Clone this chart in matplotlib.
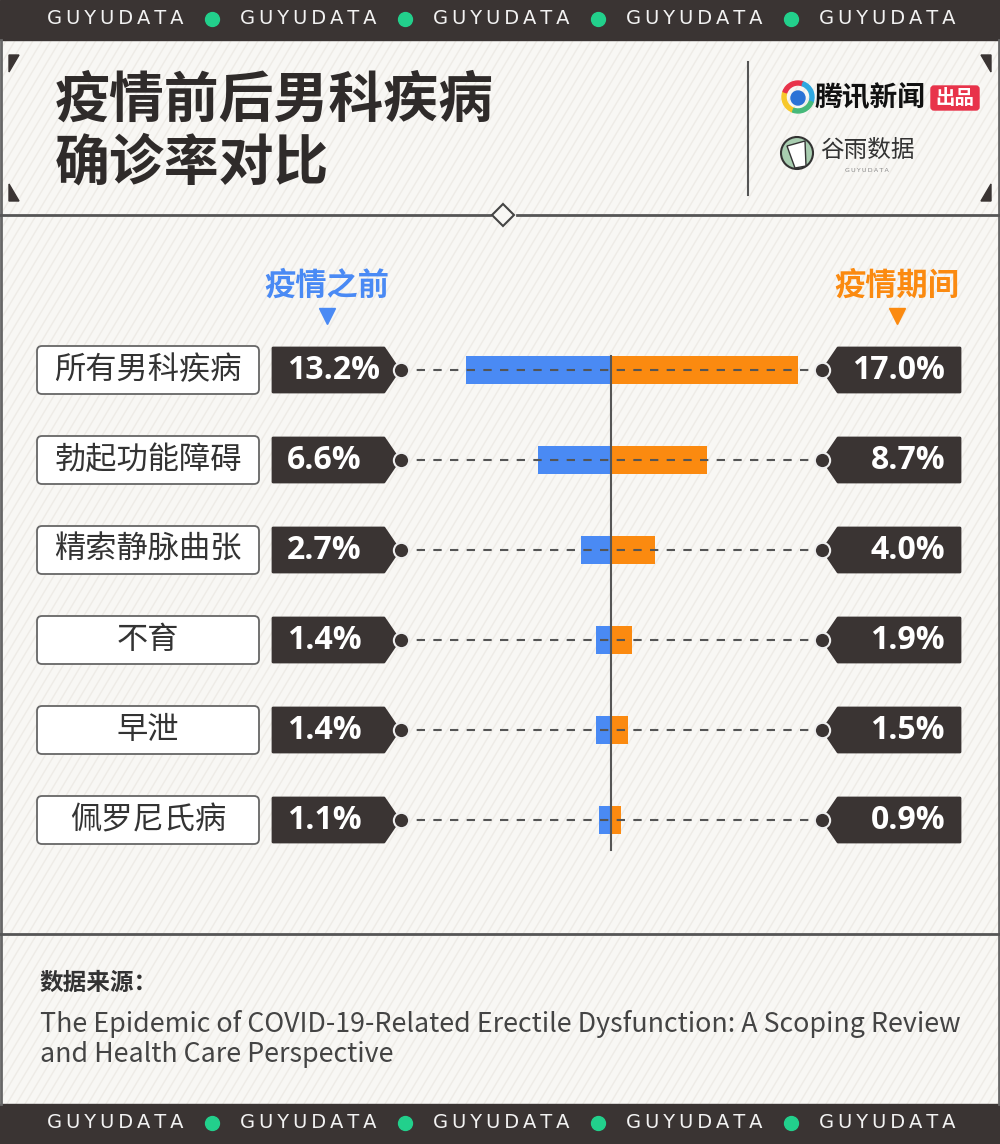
import matplotlib.pyplot as plt
from matplotlib.patches import Rectangle, FancyBboxPatch, Polygon, Circle, Wedge
from matplotlib.transforms import blended_transform_factory
import numpy as np

plt.rcParams['font.family'] = ['Noto Sans CJK SC', 'DejaVu Sans']

# data
categories = ['所有男科疾病', '勃起功能障碍', '精索静脉曲张', '不育', '早泄', '佩罗尼氏病']
before = [13.2, 6.6, 2.7, 1.4, 1.4, 1.1]
during = [17.0, 8.7, 4.0, 1.9, 1.5, 0.9]
series_names = ['疫情之前', '疫情期间']
title_lines = ['疫情前后男科疾病', '确诊率对比']
source_head = '数据来源：'
source_text = ['The Epidemic of COVID-19-Related Erectile Dysfunction: A Scoping Review',
               'and Health Care Perspective']

BLUE = '#4a8af4'
ORANGE = '#fb8a10'
DARK = '#3a3433'
BG = '#f8f7f4'

W, H = 1000, 1144
fig = plt.figure(figsize=(W / 100, H / 100), dpi=100)
fig.patch.set_facecolor(BG)

# background axes in pixel coords
bg = fig.add_axes([0, 0, 1, 1])
bg.set_xlim(0, W)
bg.set_ylim(H, 0)
bg.axis('off')

# diagonal stripes
for x0 in np.arange(-800, W + 10, 9):
    bg.plot([x0, x0 + 0.6 * H], [H, 0], color='#eeebe6', lw=1.0, zorder=0)

# top / bottom bands
for y0 in (0, 1104):
    bg.add_patch(Rectangle((0, y0), W, 40, color=DARK, zorder=2))
    yc = y0 + 19
    for k in range(5):
        bg.text(115 + 193 * k, yc, '\u2009'.join('GUYUDATA'), color='#f2f2f2', fontsize=14,
                family='DejaVu Sans', ha='center', va='center', zorder=3)
        if k < 4:
            bg.plot(212 + 193 * k, yc, 'o', ms=10, color='#22d08c', zorder=3)

# side borders
bg.plot([1, 1], [40, 1104], color='#666', lw=2)
bg.plot([999, 999], [40, 1104], color='#666', lw=2)

# corner wedges
for (x, y, dx, dy) in [(9, 55, 1, 1), (991, 55, -1, 1), (9, 201, 1, -1), (991, 201, -1, -1)]:
    bg.add_patch(Polygon([(x, y), (x + 10 * dx, y), (x, y + 17 * dy)], closed=True, color=DARK, zorder=3))

# title
for i, line in enumerate(title_lines):
    bg.text(55, 100 + 63 * i, line, fontsize=39.5, fontweight='bold', color='#2f2b2a',
            ha='left', va='center')

# separators
bg.plot([748, 748], [62, 195], color='#555', lw=1.5)
bg.plot([0, 490], [215, 215], color='#555', lw=2)
bg.plot([517, W], [215, 215], color='#555', lw=2)
bg.plot(503, 215, marker='D', ms=11, mfc=BG, mec='#444', mew=1.5, zorder=4)
bg.plot([0, W], [934, 934], color='#555', lw=2)

# Tencent logo
cx, cy = 798, 97
for th1, th2, c in [(110, 200, '#f7c82b'), (200, 290, '#e8334a'), (290, 20, '#2fa8e0'), (20, 110, '#46b97a')]:
    bg.add_patch(Wedge((cx, cy), 16, th1, th2, width=4, color=c, zorder=3))
bg.add_patch(Circle((cx, cy + 1), 7, color='#2b72d6', zorder=3))
bg.text(814, 98, '腾讯新闻', fontsize=20, fontweight='bold', color='#111', ha='left', va='center')
bg.add_patch(FancyBboxPatch((931, 86), 48, 24, boxstyle='round,pad=0,rounding_size=3',
                            color='#e8334a', zorder=3))
bg.text(955, 98, '出品', fontsize=14, fontweight='bold', color='white', ha='center', va='center', zorder=4)

# Guyu logo
bg.add_patch(Circle((797, 153), 16, fc='#a8cdb0', ec='#333', lw=1.5, zorder=3))
bg.add_patch(Polygon([(787, 146), (805, 141), (806, 166), (795, 168)], closed=True,
                     fc='white', ec='#333', lw=1, zorder=4))
bg.text(820, 150, '谷雨数据', fontsize=17, color='#333', ha='left', va='center')
bg.text(867, 170, '\u2009'.join('GUYUDATA'), fontsize=4.5, color='#888', family='DejaVu Sans',
        ha='center', va='center')

# series headers
hdr_x = [327, 897]
for name, x, c in zip(series_names, hdr_x, [BLUE, ORANGE]):
    bg.text(x, 286, name, fontsize=22.5, fontweight='bold', color=c, ha='center', va='center')
    bg.plot(x, 316, marker='v', ms=11, color=c)

# source
bg.text(40, 983, source_head, fontsize=17, fontweight='bold', color='#333', ha='left', va='center')
for i, line in enumerate(source_text):
    bg.text(40, 1024 + 31 * i, line, fontsize=19.3, color='#444', ha='left', va='center')

# data axes: 0% at pixel 611, rows every 90 px starting at 370
scale = 11.0
row0, pitch = 370, 90
ax = fig.add_axes([0, 0, 1, 1])
ax.patch.set_alpha(0)
ax.set_xlim(-611 / scale, (W - 611) / scale)
ax.set_ylim((H - row0) / pitch, -row0 / pitch)
ax.axis('off')

y = np.arange(len(categories))
ax.barh(y, [-v for v in before], height=0.31, color=BLUE, zorder=3)
ax.barh(y, during, height=0.31, color=ORANGE, zorder=3)
ax.plot([0, 0], [-0.155, len(categories) - 0.67], color='#555', lw=1.5, zorder=4)

tr = blended_transform_factory(bg.transData, ax.transData)
hh = 22 / pitch
for i, (cat, b, d) in enumerate(zip(categories, before, during)):
    ax.plot([400, 822], [i, i], transform=tr, color='#555', lw=1.5, ls=(0, (4, 4)), zorder=5)
    # category box
    ax.add_patch(FancyBboxPatch((37, i - 24 / pitch), 222, 48 / pitch,
                                boxstyle='round,pad=0,rounding_size=5', mutation_aspect=1 / pitch,
                                fc='white', ec='#666', lw=1.3, transform=tr, zorder=3))
    ax.text(148, i, cat, transform=tr, fontsize=22.5, color='#333', ha='center', va='center', zorder=4)
    # left tag
    ax.add_patch(Polygon([(273, i - hh), (384, i - hh), (399, i), (384, i + hh), (273, i + hh)],
                         closed=True, fc=DARK, ec=DARK, lw=2, joinstyle='round', transform=tr, zorder=3))
    ax.text(287, i + 0.01, f'{b:.1f}%', transform=tr, fontsize=23, fontweight='bold', color='white',
            family='Open Sans', ha='left', va='center', zorder=4)
    # right tag
    ax.add_patch(Polygon([(823, i), (838, i - hh), (960, i - hh), (960, i + hh), (838, i + hh)],
                         closed=True, fc=DARK, ec=DARK, lw=2, joinstyle='round', transform=tr, zorder=3))
    ax.text(945, i + 0.01, f'{d:.1f}%', transform=tr, fontsize=23, fontweight='bold', color='white',
            family='Open Sans', ha='right', va='center', zorder=4)
    for x in (401, 822):
        ax.plot(x, i, 'o', transform=tr, ms=11, mfc=DARK, mec='#eeeeee', mew=1.5, zorder=6)

plt.savefig('out.png', dpi=100, facecolor=BG)
